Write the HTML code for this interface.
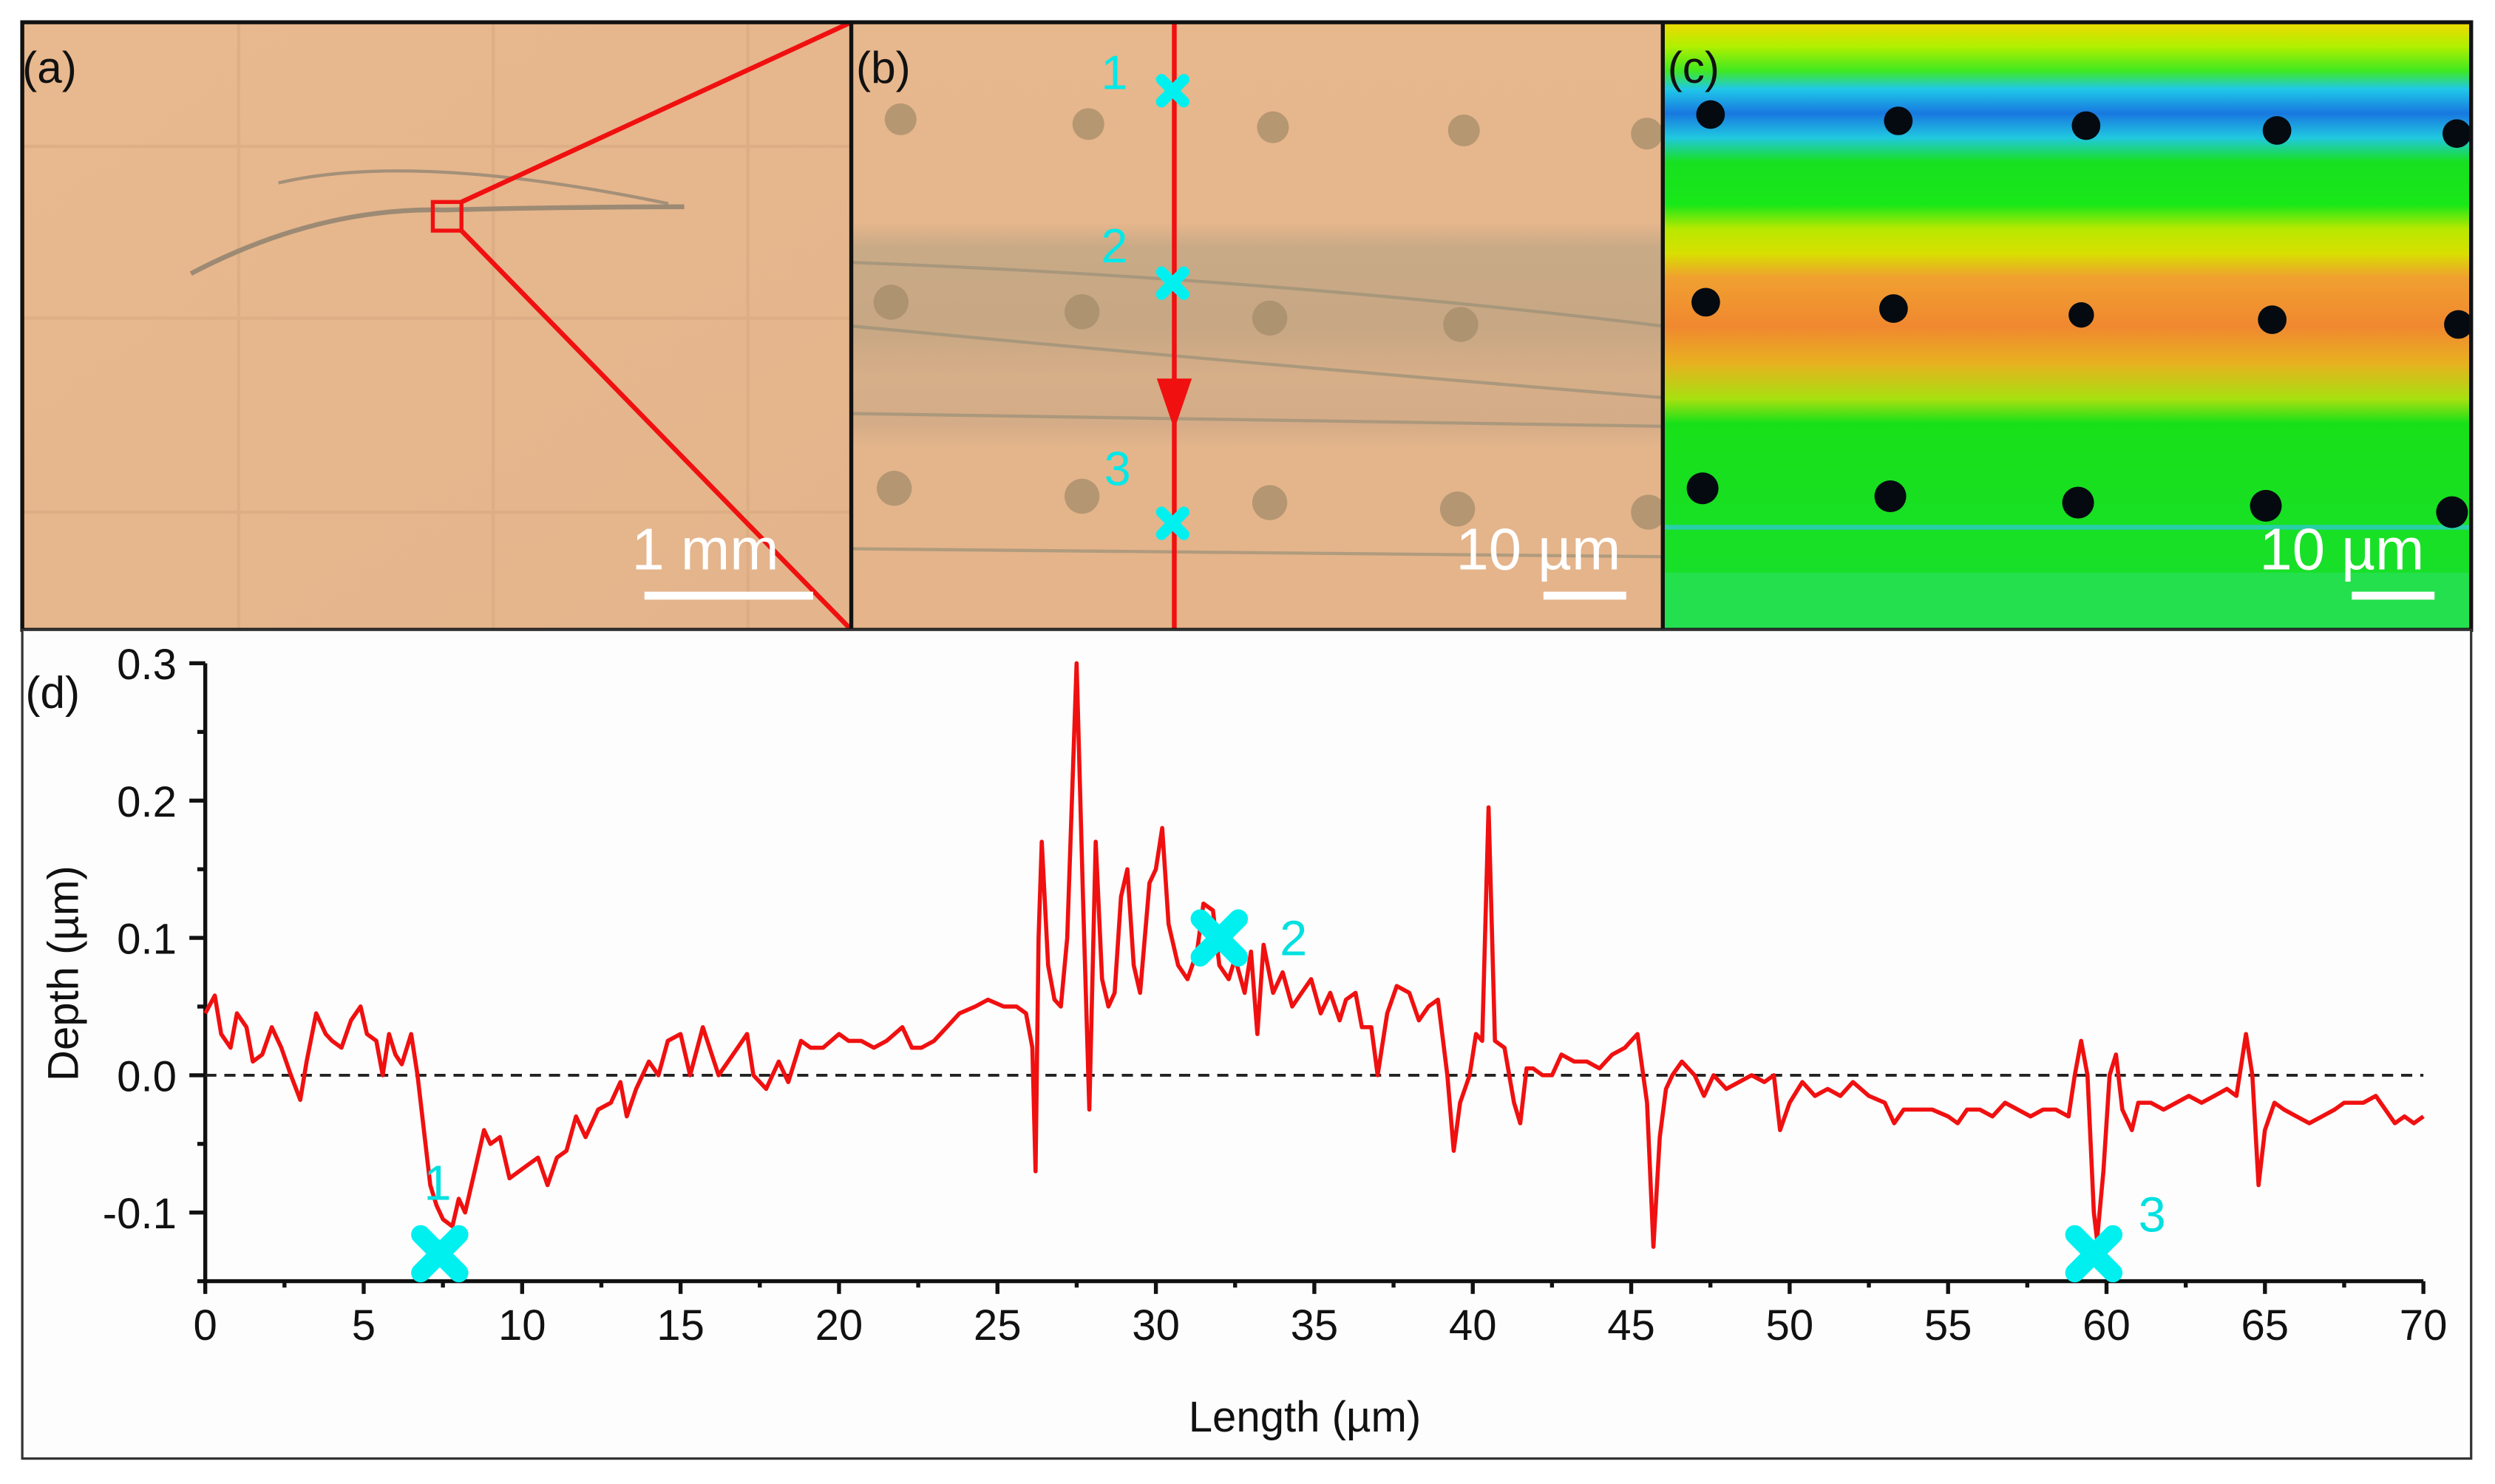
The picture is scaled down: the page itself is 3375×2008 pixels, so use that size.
<!DOCTYPE html>
<html><head><meta charset="utf-8"><style>
html,body{margin:0;padding:0;background:#fff;width:3375px;height:2008px;overflow:hidden}
svg{display:block}
text{font-family:"Liberation Sans",Arial,sans-serif}
</style></head><body>
<svg id="fig" width="3375" height="2008" viewBox="0 0 1568 933" preserveAspectRatio="none" xmlns="http://www.w3.org/2000/svg">
<defs>
<linearGradient id="ga" x1="0" y1="0" x2="1" y2="1"><stop offset="0" stop-color="#e8b88e"/><stop offset="1" stop-color="#e4b48c"/></linearGradient>
<linearGradient id="gb" x1="0" y1="0" x2="0" y2="1">
<stop offset="0" stop-color="#e7b78d"/><stop offset="0.33" stop-color="#e6b68c"/>
<stop offset="0.37" stop-color="#c9aa86"/><stop offset="0.5" stop-color="#c7a784"/>
<stop offset="0.58" stop-color="#d6ae88"/><stop offset="0.66" stop-color="#d4ac87"/>
<stop offset="0.7" stop-color="#e4b58b"/><stop offset="1" stop-color="#e5b48b"/></linearGradient>
<linearGradient id="gc" x1="0" y1="0" x2="0" y2="1">
<stop offset="0" stop-color="#f0d800"/><stop offset="0.04" stop-color="#b0f000"/>
<stop offset="0.08" stop-color="#40e820"/><stop offset="0.11" stop-color="#20c8e8"/><stop offset="0.15" stop-color="#1878e0"/><stop offset="0.19" stop-color="#20c8e0"/>
<stop offset="0.23" stop-color="#18e020"/><stop offset="0.3" stop-color="#18e818"/>
<stop offset="0.34" stop-color="#b8e800"/><stop offset="0.38" stop-color="#d8e000"/>
<stop offset="0.42" stop-color="#f0a030"/><stop offset="0.5" stop-color="#f08830"/><stop offset="0.56" stop-color="#e8b020"/>
<stop offset="0.62" stop-color="#a8e010"/><stop offset="0.66" stop-color="#18e018"/>
<stop offset="1" stop-color="#18e030"/></linearGradient>
</defs>
<rect x="0" y="0" width="1568" height="933" fill="#fff"/>

<!-- panel a -->
<g>
<rect x="14" y="14" width="521" height="382" fill="url(#ga)"/>
<g stroke="#d6a67e" stroke-width="2" opacity="0.5">
<line x1="150" y1="14" x2="150" y2="396"/><line x1="310" y1="14" x2="310" y2="396"/><line x1="470" y1="14" x2="470" y2="396"/>
<line x1="14" y1="92" x2="535" y2="92"/><line x1="14" y1="200" x2="535" y2="200"/><line x1="14" y1="322" x2="535" y2="322"/>
</g>
<path d="M120,172 Q200,130 280,132 Q360,130 430,130" stroke="#9c8a74" stroke-width="3" fill="none"/>
<path d="M175,115 Q260,95 420,128" stroke="#a49078" stroke-width="2" fill="none"/>
<rect x="272" y="127" width="18" height="18" fill="none" stroke="#f01010" stroke-width="2.5"/>
<line x1="290" y1="127" x2="535" y2="14" stroke="#f01010" stroke-width="3"/>
<line x1="290" y1="145" x2="535" y2="396" stroke="#f01010" stroke-width="3"/>
<text x="14" y="52" font-size="28" fill="#111">(a)</text>
<text x="397" y="358" font-size="37" fill="#fff">1 mm</text>
<rect x="405" y="372" width="106" height="5" fill="#fff"/>
</g>

<!-- panel b -->
<g>
<rect x="535" y="14" width="510" height="382" fill="url(#gb)"/>
<g fill="#a48c6a" opacity="0.75">
<circle cx="566" cy="75" r="10"/><circle cx="684" cy="78" r="10"/><circle cx="800" cy="80" r="10"/><circle cx="920" cy="82" r="10"/><circle cx="1035" cy="84" r="10"/>
<circle cx="560" cy="190" r="11"/><circle cx="680" cy="196" r="11"/><circle cx="798" cy="200" r="11"/><circle cx="918" cy="204" r="11"/>
<circle cx="562" cy="307" r="11"/><circle cx="680" cy="312" r="11"/><circle cx="798" cy="316" r="11"/><circle cx="916" cy="320" r="11"/><circle cx="1036" cy="322" r="11"/>
</g>
<g stroke="#9a9078" stroke-width="2" opacity="0.7" fill="none">
<path d="M535,165 Q800,175 1045,205"/><path d="M535,205 Q800,230 1045,250"/><path d="M535,260 L1045,268"/><path d="M535,345 L1045,350"/>
</g>
<line x1="738" y1="14" x2="738" y2="396" stroke="#f01010" stroke-width="3"/>
<polygon points="727,238 749,238 738,270" fill="#f01010"/>
<g fill="#00e8e8" font-size="30">
<text x="692" y="56">1</text><text x="692" y="165">2</text><text x="694" y="305">3</text>
</g>
<g stroke="#00f0f0" stroke-width="7" stroke-linecap="round">
<path d="M730,50 L744,64 M744,50 L730,64"/><path d="M730,171 L744,185 M744,171 L730,185"/><path d="M730,322 L744,336 M744,322 L730,336"/>
</g>
<text x="915" y="358" font-size="37" fill="#fff">10 µm</text>
<rect x="970" y="372" width="52" height="5" fill="#fff"/>
<text x="538" y="52" font-size="28" fill="#111">(b)</text>
</g>

<!-- panel c -->
<g>
<rect x="1045" y="14" width="508" height="382" fill="url(#gc)"/>
<rect x="1045" y="330" width="508" height="3" fill="#30c8e0" opacity="0.7"/>
<rect x="1045" y="360" width="508" height="36" fill="#30e070" opacity="0.5"/>
<g fill="#050a10">
<circle cx="1075" cy="72" r="9"/><circle cx="1193" cy="76" r="9"/><circle cx="1311" cy="79" r="9"/><circle cx="1431" cy="82" r="9"/><circle cx="1544" cy="84" r="9"/>
<circle cx="1072" cy="190" r="9"/><circle cx="1190" cy="194" r="9"/><circle cx="1308" cy="198" r="8"/><circle cx="1428" cy="201" r="9"/><circle cx="1545" cy="204" r="9"/>
<circle cx="1070" cy="307" r="10"/><circle cx="1188" cy="312" r="10"/><circle cx="1306" cy="316" r="10"/><circle cx="1424" cy="318" r="10"/><circle cx="1541" cy="322" r="10"/>
</g>
<text x="1048" y="52" font-size="28" fill="#111">(c)</text>
<text x="1420" y="358" font-size="37" fill="#fff">10 µm</text>
<rect x="1478" y="372" width="52" height="5" fill="#fff"/>
</g>
<g fill="none" stroke="#111" stroke-width="2.5">
<rect x="14" y="14" width="1539" height="382"/>
<line x1="535" y1="14" x2="535" y2="396"/><line x1="1045" y1="14" x2="1045" y2="396"/>
</g>

<!-- panel d -->
<g>
<rect x="14" y="396" width="1539" height="521" fill="#fdfdfd" stroke="#333" stroke-width="1.5"/>
<text x="16" y="445" font-size="28" fill="#111">(d)</text>
<g id="axes"></g>
<g id="series"></g>
<g id="markers"></g>
</g>
</svg>
<script>
const xs = [0,0.3,0.5,0.8,1.0,1.3,1.5,1.8,2.1,2.4,2.7,3.0,3.2,3.5,3.8,4.0,4.3,4.6,4.9,5.1,5.4,5.6,5.8,6.0,6.2,6.5,6.7,6.9,7.1,7.3,7.5,7.8,8.0,8.2,8.5,8.8,9.0,9.3,9.6,9.9,10.2,10.5,10.8,11.1,11.4,11.7,12.0,12.4,12.8,13.1,13.3,13.6,14.0,14.3,14.6,15.0,15.3,15.7,16.2,16.5,16.8,17.1,17.3,17.7,18.1,18.4,18.8,19.1,19.5,20,20.3,20.7,21.1,21.5,22.0,22.3,22.6,23.0,23.4,23.8,24.3,24.7,25.2,25.6,25.9,26.1,26.2,26.3,26.4,26.6,26.8,27.0,27.2,27.5,27.7,27.9,28.1,28.3,28.5,28.7,28.9,29.1,29.3,29.5,29.8,30.0,30.2,30.4,30.7,31.0,31.3,31.5,31.8,32.0,32.3,32.5,32.8,33.0,33.2,33.4,33.7,34.0,34.3,34.6,34.9,35.2,35.5,35.8,36.0,36.3,36.5,36.8,37.0,37.3,37.6,38.0,38.3,38.6,38.9,39.2,39.4,39.6,39.9,40.1,40.3,40.5,40.7,41.0,41.3,41.5,41.7,41.9,42.2,42.5,42.8,43.2,43.6,44.0,44.4,44.8,45.0,45.2,45.5,45.7,45.9,46.1,46.3,46.6,47.0,47.3,47.6,48.0,48.4,48.8,49.2,49.5,49.7,50.0,50.4,50.8,51.2,51.6,52.0,52.5,53.0,53.3,53.6,54.0,54.5,55.0,55.3,55.6,56.0,56.4,56.8,57.2,57.6,58.0,58.4,58.8,59.0,59.2,59.4,59.6,59.7,59.9,60.1,60.3,60.5,60.8,61.0,61.4,61.8,62.2,62.6,63.0,63.4,63.8,64.1,64.4,64.6,64.8,65.0,65.3,65.6,66.0,66.4,66.8,67.2,67.5,67.8,68.1,68.5,68.8,69.1,69.4,69.7,70];
const depths = [0.045,0.058,0.03,0.02,0.045,0.035,0.01,0.015,0.035,0.02,0.0,-0.018,0.01,0.045,0.03,0.025,0.02,0.04,0.05,0.03,0.025,0.0,0.03,0.015,0.008,0.03,0.0,-0.04,-0.08,-0.095,-0.105,-0.11,-0.09,-0.1,-0.07,-0.04,-0.05,-0.045,-0.075,-0.07,-0.065,-0.06,-0.08,-0.06,-0.055,-0.03,-0.045,-0.025,-0.02,-0.005,-0.03,-0.01,0.01,0.0,0.025,0.03,0.0,0.035,0.0,0.01,0.02,0.03,0.0,-0.01,0.01,-0.005,0.025,0.02,0.02,0.03,0.025,0.025,0.02,0.025,0.035,0.02,0.02,0.025,0.035,0.045,0.05,0.055,0.05,0.05,0.045,0.02,-0.07,0.1,0.17,0.08,0.055,0.05,0.1,0.3,0.13,-0.025,0.17,0.07,0.05,0.06,0.13,0.15,0.08,0.06,0.14,0.15,0.18,0.11,0.08,0.07,0.09,0.125,0.12,0.08,0.07,0.085,0.06,0.09,0.03,0.095,0.06,0.075,0.05,0.06,0.07,0.045,0.06,0.04,0.055,0.06,0.035,0.035,0.0,0.045,0.065,0.06,0.04,0.05,0.055,0.0,-0.055,-0.02,0.0,0.03,0.025,0.195,0.025,0.02,-0.02,-0.035,0.005,0.005,0.0,0.0,0.015,0.01,0.01,0.005,0.015,0.02,0.025,0.03,-0.02,-0.125,-0.045,-0.01,0.0,0.01,0.0,-0.015,0.0,-0.01,-0.005,0.0,-0.005,0.0,-0.04,-0.02,-0.005,-0.015,-0.01,-0.015,-0.005,-0.015,-0.02,-0.035,-0.025,-0.025,-0.025,-0.03,-0.035,-0.025,-0.025,-0.03,-0.02,-0.025,-0.03,-0.025,-0.025,-0.03,0.0,0.025,0.0,-0.1,-0.12,-0.07,0.0,0.015,-0.025,-0.04,-0.02,-0.02,-0.025,-0.02,-0.015,-0.02,-0.015,-0.01,-0.015,0.03,0.0,-0.08,-0.04,-0.02,-0.025,-0.03,-0.035,-0.03,-0.025,-0.02,-0.02,-0.02,-0.015,-0.025,-0.035,-0.03,-0.035,-0.03];
const xTicks = [0,5,10,15,20,25,30,35,40,45,50,55,60,65,70];
const yTicks = [-0.1,0.0,0.1,0.2,0.3];
const yTickLabels = ["-0.1","0.0","0.1","0.2","0.3"];
const markerX = [7.4,32,59.6];
const markerY = [-0.13,0.1,-0.13];
const markerLabels = ["1","2","3"];

const NS="http://www.w3.org/2000/svg";
const X0=129,X1=1523,Y_TOP=417,Y_ZERO=676;
function sx(v){return X0+(v-0)/(70-0)*(X1-X0);}
function sy(v){return Y_ZERO-v*(Y_ZERO-Y_TOP)/0.3;}
function mk(tag,attrs,parent){const e=document.createElementNS(NS,tag);for(const k in attrs)e.setAttribute(k,attrs[k]);parent.appendChild(e);return e;}
const axes=document.getElementById('axes');
const yBottom=sy(-0.15);
let e;
e=mk('line',{x1:X0,y1:sy(0.3),x2:X0,y2:yBottom,stroke:'#111','stroke-width':2.5},axes);


e=mk('line',{x1:X0,y1:yBottom,x2:X1,y2:yBottom,stroke:'#111','stroke-width':2.5},axes);


e=mk('line',{x1:X0,y1:sy(0),x2:X1,y2:sy(0),stroke:'#222','stroke-width':1.8,'stroke-dasharray':'7,5'},axes);


for(let i=0;i<xTicks.length;i++){
  const x=sx(xTicks[i]);
  mk('line',{x1:x,y1:yBottom,x2:x,y2:yBottom+8,stroke:'#111','stroke-width':2.5},axes);
  if(i<xTicks.length-1){const xm=sx(xTicks[i]+2.5);mk('line',{x1:xm,y1:yBottom,x2:xm,y2:yBottom+4,stroke:'#111','stroke-width':2.5},axes);}
  e=mk('text',{x:x,y:yBottom+37,'font-size':27,'text-anchor':'middle',fill:'#111'},axes);
  e.textContent=String(xTicks[i]);
  
  
}
for(let i=0;i<yTicks.length;i++){
  const y=sy(yTicks[i]);
  mk('line',{x1:X0-10,y1:y,x2:X0,y2:y,stroke:'#111','stroke-width':2.5},axes);
  if(i<yTicks.length-1){const ym=sy(yTicks[i]+0.05);mk('line',{x1:X0-5,y1:ym,x2:X0,y2:ym,stroke:'#111','stroke-width':2.5},axes);}
  e=mk('text',{x:X0-18,y:y+10,'font-size':27,'text-anchor':'end',fill:'#111'},axes);
  e.textContent=yTickLabels[i];
  
  
}
mk('line',{x1:X0-5,y1:sy(-0.15),x2:X0,y2:sy(-0.15),stroke:'#111','stroke-width':2.5},axes);
e=mk('text',{x:820,y:900,'font-size':27,'text-anchor':'middle',fill:'#111'},axes);
e.textContent='Length (µm)';


e=mk('text',{x:49,y:612,'font-size':27,'text-anchor':'middle',fill:'#111',transform:'rotate(-90 49 612)'},axes);
e.textContent='Depth (µm)';



const series=document.getElementById('series');
let d='';
for(let i=0;i<xs.length;i++){d+=(i?'L':'M')+sx(xs[i]).toFixed(1)+','+sy(depths[i]).toFixed(1);}
e=mk('path',{d:d,fill:'none',stroke:'#f01010','stroke-width':2.6,'stroke-linejoin':'round'},series);



const markers=document.getElementById('markers');
const lblOff=[[-10,-45],[38,0],[28,-25]];
for(let i=0;i<markerX.length;i++){
  const cx=sx(markerX[i]),cy=sy(markerY[i]);
  e=mk('path',{d:`M${cx-12},${cy-12}L${cx+12},${cy+12}M${cx+12},${cy-12}L${cx-12},${cy+12}`,stroke:'#00f0f0','stroke-width':12,'stroke-linecap':'round'},markers);
  
  
  e=mk('text',{x:cx+lblOff[i][0],y:cy+lblOff[i][1]+11,'font-size':31,fill:'#00e0e0'},markers);
  e.textContent=markerLabels[i];
  
  
}
</script>
</body></html>
